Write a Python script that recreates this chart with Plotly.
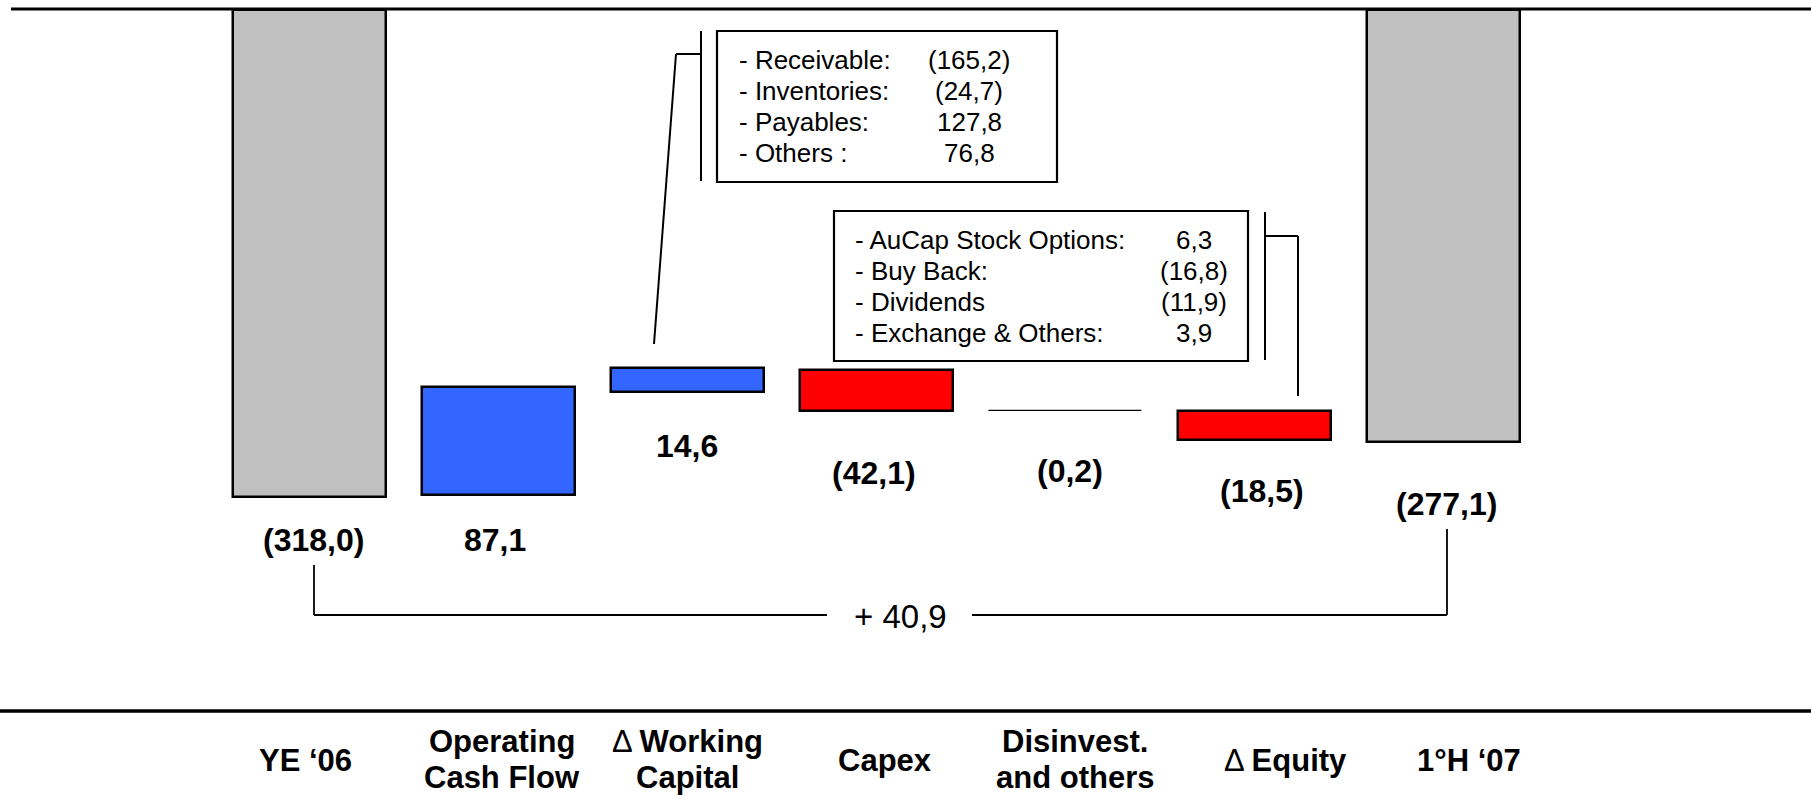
import plotly.graph_objects as go

# ---------------- data ----------------
categories = ["YE ‘06", "Operating<br>Cash Flow", "Δ Working<br>Capital", "Capex",
              "Disinvest.<br>and others", "Δ Equity", "1°H ‘07"]
value_labels = ["(318,0)", "87,1", "14,6", "(42,1)", "(0,2)", "(18,5)", "(277,1)"]
# bar extents as drawn in the picture (net-debt units, 0 = top line)
bar_top = [0.0, -246.2, -233.8, -235.1, -261.8, -261.8, 0.0]
bar_bottom = [-318.0, -316.7, -249.5, -261.9, -262.0, -280.8, -282.3]
bar_colors = ["#C0C0C0", "#3366FF", "#3366FF", "#FF0000", "#000000", "#FF0000", "#C0C0C0"]

wc_items = ["- Receivable:", "- Inventories:", "- Payables:", "- Others :"]
wc_values = ["(165,2)", "(24,7)", "127,8", "76,8"]
eq_items = ["- AuCap Stock Options:", "- Buy Back:", "- Dividends", "- Exchange & Others:"]
eq_values = ["6,3", "(16,8)", "(11,9)", "3,9"]
total_change = "+ 40,9"

# ---------------- layout helpers ----------------
W, H = 1811, 798
FONT = "Arial, 'Liberation Sans', sans-serif"
X0, STEP = 309.7, 188.9          # pixel centre of first category and spacing
XR = [-X0 / STEP, (W - X0) / STEP]
YR = [-514.6, 6.53]


def px(x):
    return x / W


def py(y):
    return 1 - y / H


idx = list(range(len(categories)))
heights = [t - b for t, b in zip(bar_top, bar_bottom)]
line_w = [2.5, 2.5, 2.5, 2.5, 1.2, 2.5, 2.5]

fig = go.Figure()
fig.add_trace(go.Bar(
    x=idx, y=heights, base=bar_bottom, width=0.81,
    marker=dict(color=bar_colors, line=dict(color="black", width=line_w)),
    hoverinfo="skip", showlegend=False,
))

ann = []
# value labels under bars
lab_off = [43, 45, 54, 62, 60, 51, 62]
lab_dx = [4, -4, -1, -2, 5, 8, 3]
for i, t in enumerate(value_labels):
    ann.append(dict(x=i, y=bar_bottom[i], xref="x", yref="y", text="<b>%s</b>" % t,
                    showarrow=False, xanchor="center", yanchor="middle",
                    yshift=-lab_off[i], xshift=lab_dx[i],
                    font=dict(family=FONT, size=32, color="black")))


def fmt_cat(line):
    if line.startswith("Δ "):
        return "Δ <b>%s</b>" % line[2:]
    return "<b>%s</b>" % line


# category labels
cat_x = [305, 502, 687, 885, 1075, 1285, 1469]
for i, c in enumerate(categories):
    lines = c.split("<br>")
    ys = [760] if len(lines) == 1 else [741, 777]
    for ln, yy in zip(lines, ys):
        ann.append(dict(x=px(cat_x[i]), y=py(yy), xref="paper", yref="paper",
                        text=fmt_cat(ln), showarrow=False,
                        xanchor="center", yanchor="middle",
                        font=dict(family=FONT, size=31, color="black")))


# detail boxes text
def box_rows(items, values, x_left, x_val, rows):
    for it, v, yy in zip(items, values, rows):
        ann.append(dict(x=px(x_left), y=py(yy), xref="paper", yref="paper", text=it,
                        showarrow=False, xanchor="left", yanchor="middle",
                        font=dict(family=FONT, size=26, color="black")))
        ann.append(dict(x=px(x_val), y=py(yy), xref="paper", yref="paper", text=v,
                        showarrow=False, xanchor="center", yanchor="middle",
                        font=dict(family=FONT, size=26, color="black")))


box_rows(wc_items, wc_values, 737, 969, [60, 91, 122, 153])
box_rows(eq_items, eq_values, 853, 1194, [240, 271, 302, 333])

ann.append(dict(x=px(900), y=py(616), xref="paper", yref="paper", text=total_change,
                showarrow=False, xanchor="center", yanchor="middle",
                font=dict(family=FONT, size=33, color="black")))

shapes = []


def seg(x0, y0, x1, y1, w=2.0):
    shapes.append(dict(type="line", xref="paper", yref="paper",
                       x0=px(x0), y0=py(y0), x1=px(x1), y1=py(y1),
                       line=dict(color="black", width=w)))


# top and bottom rules
seg(11, 9, W, 9, 3)
seg(0, 711, W, 711, 3.5)
# boxes
shapes.append(dict(type="rect", xref="paper", yref="paper", x0=px(717), x1=px(1057),
                   y0=py(31), y1=py(182), line=dict(color="black", width=2.2)))
shapes.append(dict(type="rect", xref="paper", yref="paper", x0=px(834), x1=px(1248),
                   y0=py(211), y1=py(361), line=dict(color="black", width=2.2)))
# bracket for working capital
seg(701, 31, 701, 181, 2)
seg(676, 54, 701, 54, 2)
seg(676, 54, 654, 344, 2)
# bracket for equity
seg(1265, 212, 1265, 360, 2)
seg(1265, 236, 1298, 236, 2)
seg(1298, 236, 1298, 396, 2)
# overall change bracket
seg(314, 565, 314, 615, 1.8)
seg(314, 615, 827, 615, 1.8)
seg(972, 615, 1447, 615, 1.8)
seg(1447, 529, 1447, 615, 1.8)

fig.update_layout(
    width=W, height=H, margin=dict(l=0, r=0, t=0, b=0),
    paper_bgcolor="white", plot_bgcolor="white",
    xaxis=dict(range=XR, visible=False, fixedrange=True),
    yaxis=dict(range=YR, visible=False, fixedrange=True),
    annotations=ann, shapes=shapes, bargap=0,
)

fig.write_html(
    "out.html",
    config={"displayModeBar": False},
    post_script="document.body.style.margin='0';document.body.style.overflow='hidden';",
)
